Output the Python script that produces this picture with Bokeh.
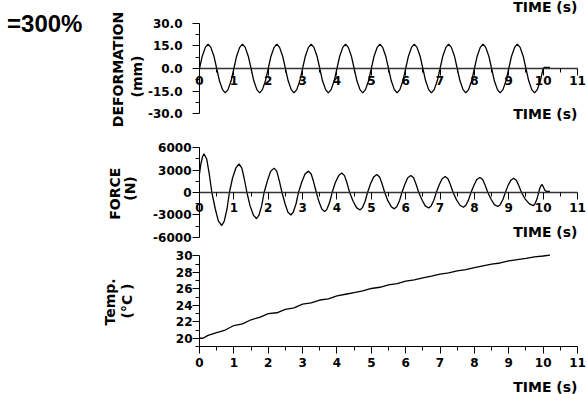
import math
from bokeh.plotting import figure
from bokeh.layouts import column
from bokeh.models import Label, FixedTicker, NumeralTickFormatter, Range1d
from bokeh.embed import file_html
from bokeh.resources import INLINE

# ---------------- data ----------------
time_ticks = [0, 1, 2, 3, 4, 5, 6, 7, 8, 9, 10, 11]
defo_ticks = [-30, -15, 0, 15, 30]
force_ticks = [-6000, -3000, 0, 3000, 6000]
temp_ticks = [20, 22, 24, 26, 28, 30]

defo_t = [
    0.00, 0.08, 0.17, 0.25, 0.33, 0.42, 0.50, 0.58, 0.67, 0.75, 0.83, 0.92,
    1.00, 1.08, 1.17, 1.25, 1.33, 1.42, 1.50, 1.58, 1.67, 1.75, 1.83, 1.92,
    2.00, 2.08, 2.17, 2.25, 2.33, 2.42, 2.50, 2.58, 2.67, 2.75, 2.83, 2.92,
    3.00, 3.08, 3.17, 3.25, 3.33, 3.42, 3.50, 3.58, 3.67, 3.75, 3.83, 3.92,
    4.00, 4.08, 4.17, 4.25, 4.33, 4.42, 4.50, 4.58, 4.67, 4.75, 4.83, 4.92,
    5.00, 5.08, 5.17, 5.25, 5.33, 5.42, 5.50, 5.58, 5.67, 5.75, 5.83, 5.92,
    6.00, 6.08, 6.17, 6.25, 6.33, 6.42, 6.50, 6.58, 6.67, 6.75, 6.83, 6.92,
    7.00, 7.08, 7.17, 7.25, 7.33, 7.42, 7.50, 7.58, 7.67, 7.75, 7.83, 7.92,
    8.00, 8.08, 8.17, 8.25, 8.33, 8.42, 8.50, 8.58, 8.67, 8.75, 8.83, 8.92,
    9.00, 9.08, 9.17, 9.25, 9.33, 9.42, 9.50, 9.58, 9.67, 9.75, 9.83, 9.92,
    10.00, 10.04, 10.20]
defo_mm = [
    0.0, 8.2, 14.1, 16.3, 14.1, 8.2, 0.0, -8.2, -14.1, -16.3, -14.1, -8.2,
    0.0, 8.2, 14.1, 16.3, 14.1, 8.2, 0.0, -8.2, -14.1, -16.3, -14.1, -8.2,
    0.0, 8.2, 14.1, 16.3, 14.1, 8.2, 0.0, -8.2, -14.1, -16.3, -14.1, -8.2,
    0.0, 8.2, 14.1, 16.3, 14.1, 8.2, 0.0, -8.2, -14.1, -16.3, -14.1, -8.2,
    0.0, 8.2, 14.1, 16.3, 14.1, 8.2, 0.0, -8.2, -14.1, -16.3, -14.1, -8.2,
    0.0, 8.2, 14.1, 16.3, 14.1, 8.2, 0.0, -8.2, -14.1, -16.3, -14.1, -8.2,
    0.0, 8.2, 14.1, 16.3, 14.1, 8.2, 0.0, -8.2, -14.1, -16.3, -14.1, -8.2,
    0.0, 8.2, 14.1, 16.3, 14.1, 8.2, 0.0, -8.2, -14.1, -16.3, -14.1, -8.2,
    0.0, 8.2, 14.1, 16.3, 14.1, 8.2, 0.0, -8.2, -14.1, -16.3, -14.1, -8.2,
    0.0, 8.2, 14.1, 16.3, 14.1, 8.2, 0.0, -8.2, -14.1, -16.3, -14.1, -8.2,
    0.0, 0.8, 0.8]

force_t = [
    0.00, 0.04, 0.09, 0.13, 0.21, 0.28, 0.36, 0.46, 0.55, 0.65, 0.72, 0.80, 0.87,
    0.96, 1.06, 1.15, 1.23, 1.30, 1.38, 1.47, 1.57, 1.66, 1.73, 1.81, 1.88,
    1.98, 2.07, 2.17, 2.25, 2.32, 2.40, 2.49, 2.57, 2.66, 2.73, 2.81, 2.88,
    2.98, 3.07, 3.17, 3.25, 3.32, 3.40, 3.48, 3.56, 3.64, 3.71, 3.79, 3.86,
    3.95, 4.05, 4.14, 4.22, 4.29, 4.37, 4.47, 4.57, 4.67, 4.74, 4.82, 4.89,
    4.98, 5.07, 5.16, 5.24, 5.31, 5.39, 5.48, 5.58, 5.67, 5.74, 5.82, 5.89,
    5.98, 6.06, 6.15, 6.23, 6.30, 6.38, 6.48, 6.57, 6.67, 6.74, 6.82, 6.89,
    6.98, 7.06, 7.15, 7.23, 7.30, 7.38, 7.48, 7.58, 7.68, 7.75, 7.83, 7.90,
    7.99, 8.07, 8.16, 8.24, 8.31, 8.39, 8.49, 8.58, 8.68, 8.75, 8.83, 8.90,
    8.98, 9.06, 9.14, 9.22, 9.29, 9.37, 9.48, 9.60, 9.71, 9.76, 9.82, 9.87,
    9.90, 9.94, 9.97, 10.01, 10.05, 10.10, 10.20]
force_n = [
    2500, 3800, 4800, 5150, 4460, 2580, 0, -2200, -3810, -4400, -3810, -2200, 0,
    1900, 3290, 3800, 3290, 1900, 0, -1750, -3030, -3500, -3030, -1750, 0,
    1625, 2815, 3250, 2815, 1625, 0, -1500, -2600, -3000, -2600, -1500, 0,
    1425, 2470, 2850, 2470, 1425, 0, -1275, -2210, -2550, -2210, -1275, 0,
    1300, 2250, 2600, 2250, 1300, 0, -1165, -2020, -2330, -2020, -1165, 0,
    1200, 2080, 2400, 2080, 1200, 0, -1090, -1890, -2180, -1890, -1090, 0,
    1135, 1965, 2270, 1965, 1135, 0, -1030, -1785, -2060, -1785, -1030, 0,
    1065, 1845, 2130, 1845, 1065, 0, -980, -1700, -1960, -1700, -980, 0,
    1000, 1730, 2000, 1730, 1000, 0, -935, -1620, -1870, -1620, -935, 0,
    950, 1645, 1900, 1645, 950, 0, -880, -1525, -1760, -1525, -880, 0,
    535, 925, 1070, 700, 300, 150, 150]

temp_t = [0.00, 0.10, 0.25, 0.50, 0.75, 1.00, 1.25, 1.50, 1.75, 2.00, 2.25, 2.50,
          2.75, 3.00, 3.25, 3.50, 3.75, 4.00, 4.25, 4.50, 4.75, 5.00, 5.25, 5.50,
          5.75, 6.00, 6.25, 6.50, 6.75, 7.00, 7.25, 7.50, 7.75, 8.00, 8.25, 8.50,
          8.75, 9.00, 9.25, 9.50, 9.75, 10.00, 10.20]
temp_c = [20.00, 20.00, 20.35, 20.70, 21.00, 21.55, 21.75, 22.25, 22.55, 23.00, 23.10, 23.50,
          23.70, 24.15, 24.30, 24.65, 24.80, 25.15, 25.35, 25.55, 25.75, 26.05, 26.20, 26.50,
          26.65, 26.95, 27.10, 27.35, 27.55, 27.80, 27.95, 28.20, 28.35, 28.60, 28.80, 29.00,
          29.15, 29.40, 29.55, 29.70, 29.90, 30.00, 30.10]

# ---------------- layout ----------------
FONT = "DejaVu Sans"
W = 587
X0, X1 = -5.791, 11.291          # whole canvas width in time units


def make_fig(height, y0, y1):
    p = figure(width=W, height=height, x_range=Range1d(X0, X1), y_range=Range1d(y0, y1),
               output_backend="svg", toolbar_location=None, tools="",
               min_border_left=0, min_border_right=0,
               min_border_top=0, min_border_bottom=0)
    p.title.visible = False
    p.outline_line_color = None
    p.grid.visible = False
    return p


def style_axis(ax, standoff, color="black", width=1.0):
    ax.axis_line_color = color
    ax.axis_line_width = width
    ax.major_tick_line_color = "black"
    ax.minor_tick_line_color = "black"
    ax.major_tick_out = 7
    ax.major_tick_in = 0
    ax.minor_tick_out = 4
    ax.minor_tick_in = 0
    ax.major_label_text_font = FONT
    ax.major_label_text_font_style = "bold"
    ax.major_label_text_font_size = "12px"
    ax.major_label_text_color = "black"
    ax.major_label_standoff = standoff


def lab(p, x, y, text, size="14px", angle=0.0, align="center", font=FONT):
    p.add_layout(Label(x=x, y=y, text=text, angle=angle, text_align=align,
                       text_baseline="alphabetic", text_font=font, text_font_size=size,
                       text_font_style="bold", text_color="black"))


x_minor = [t + 0.5 for t in time_ticks[:-1]]

# ---- panel 1: deformation ----
p1 = make_fig(130, -41.333, 45.333)
p1.line(defo_t, defo_mm, line_color="black", line_width=1.3)
p1.xaxis.fixed_location = 0
p1.xaxis.bounds = (0, 11)
p1.yaxis.fixed_location = 0
p1.yaxis.bounds = (-30, 30)
p1.xaxis.ticker = FixedTicker(ticks=time_ticks, minor_ticks=x_minor)
p1.yaxis.ticker = FixedTicker(ticks=defo_ticks, minor_ticks=[-22.5, -7.5, 7.5, 22.5])
p1.yaxis.formatter = NumeralTickFormatter(format="0.0")
style_axis(p1.xaxis[0], 0, "#333333", 1.4)
style_axis(p1.yaxis[0], 10)
lab(p1, -5.60, 29.67, "=300%", size="24px", align="left", font="Liberation Sans")
lab(p1, -2.386, -0.667, "DEFORMATION", angle=math.pi / 2)
lab(p1, -1.833, -5.333, "(mm)", angle=math.pi / 2)
lab(p1, 11.0, -30.0, "TIME (s)", align="right")
lab(p1, 11.0, 40.67, "TIME (s)", align="right")

# ---- panel 2: force ----
p2 = make_fig(115, -7066.67, 8266.67)
p2.line(force_t, force_n, line_color="black", line_width=1.3)
p2.xaxis.fixed_location = 0
p2.xaxis.bounds = (0, 11)
p2.yaxis.fixed_location = 0
p2.yaxis.bounds = (-6000, 6000)
p2.xaxis.ticker = FixedTicker(ticks=time_ticks, minor_ticks=x_minor)
p2.yaxis.ticker = FixedTicker(ticks=force_ticks, minor_ticks=[-4500, -1500, 1500, 4500])
p2.yaxis.formatter = NumeralTickFormatter(format="0")
style_axis(p2.xaxis[0], 4, "#333333", 1.4)
style_axis(p2.yaxis[0], 1)
lab(p2, -2.459, -173, "FORCE", angle=math.pi / 2)
lab(p2, -2.008, 533, "(N)", angle=math.pi / 2)
lab(p2, 11.0, -5333, "TIME (s)", align="right")

# ---- panel 3: temperature ----
p3 = make_fig(149, 13.166, 31.276)
p3.line(temp_t, temp_c, line_color="black", line_width=1.3)
p3.xaxis.fixed_location = 19
p3.xaxis.bounds = (0, 11)
p3.yaxis.fixed_location = 0
p3.yaxis.bounds = (19, 30)
p3.xaxis.ticker = FixedTicker(ticks=time_ticks, minor_ticks=x_minor)
p3.yaxis.ticker = FixedTicker(ticks=temp_ticks, minor_ticks=[19, 21, 23, 25, 27, 29])
p3.yaxis.formatter = NumeralTickFormatter(format="0")
style_axis(p3.xaxis[0], 4)
style_axis(p3.yaxis[0], 0)
lab(p3, -2.590, 24.41, "Temp.", angle=math.pi / 2)
lab(p3, -2.110, 24.53, "(°C )", angle=math.pi / 2)
lab(p3, 11.0, 14.138, "TIME (s)", align="right")

layout = column(p1, p2, p3, spacing=0)

open("out.html", "w").write(file_html(layout, INLINE))
